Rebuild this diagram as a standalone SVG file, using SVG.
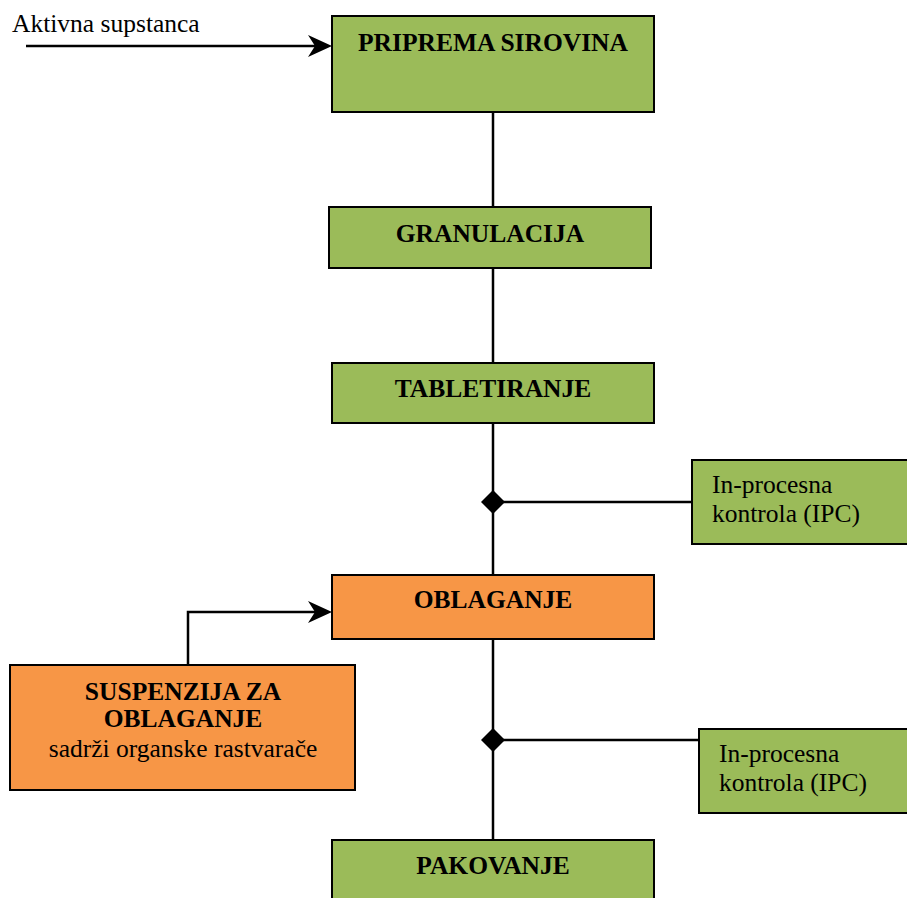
<svg xmlns="http://www.w3.org/2000/svg" width="907" height="898" viewBox="0 0 907 898">
<style>
.box{stroke:#000;stroke-width:2}
.g{fill:#9BBB59}
.o{fill:#F79646}
.t{font-family:"Liberation Serif",serif;font-size:25.5px;fill:#000}
.b{font-weight:bold;text-anchor:middle}
.ln{stroke:#000;stroke-width:2.5;fill:none}
</style>
<rect width="907" height="898" fill="#fff"/>
<g id="connectors">
<line class="ln" x1="26" y1="46" x2="320" y2="46"/>
<path d="M308,35 L332,46 L308,57 L315,46 Z" fill="#000"/>
<line class="ln" x1="493" y1="112" x2="493" y2="207"/>
<line class="ln" x1="493" y1="268" x2="493" y2="363"/>
<line class="ln" x1="493" y1="423" x2="493" y2="575"/>
<line class="ln" x1="493" y1="502" x2="692" y2="502"/>
<path d="M493,490 L505,502 L493,514 L481,502 Z" fill="#000"/>
<polyline class="ln" points="188,665 188,612 320,612"/>
<path d="M308,601 L332,612 L308,623 L315,612 Z" fill="#000"/>
<line class="ln" x1="493" y1="639" x2="493" y2="840"/>
<line class="ln" x1="493" y1="740" x2="699" y2="740"/>
<path d="M493,728 L505,740 L493,752 L481,740 Z" fill="#000"/>
</g>
<g id="aktivna"><text class="t" x="12" y="32">Aktivna supstanca</text></g>
<g id="priprema"><rect class="box g" x="332" y="16" width="322" height="96"/><text class="t b" x="493" y="51">PRIPREMA SIROVINA</text></g>
<g id="granulacija"><rect class="box g" x="329" y="207" width="322" height="61"/><text class="t b" x="490" y="242">GRANULACIJA</text></g>
<g id="tabletiranje"><rect class="box g" x="332" y="363" width="322" height="60"/><text class="t b" x="493" y="397">TABLETIRANJE</text></g>
<g id="ipc1"><rect class="box g" x="692" y="460" width="220" height="84"/><text class="t" x="712" y="493">In-procesna</text><text class="t" x="712" y="522">kontrola (IPC)</text></g>
<g id="oblaganje"><rect class="box o" x="332" y="575" width="322" height="64"/><text class="t b" x="493" y="608">OBLAGANJE</text></g>
<g id="suspenzija"><rect class="box o" x="10" y="665" width="345" height="125"/><text class="t b" x="183" y="700">SUSPENZIJA ZA</text><text class="t b" x="183" y="727">OBLAGANJE</text><text class="t" x="183" y="757" text-anchor="middle">sadrži organske rastvarače</text></g>
<g id="ipc2"><rect class="box g" x="699" y="729" width="215" height="84"/><text class="t" x="719" y="762">In-procesna</text><text class="t" x="719" y="791">kontrola (IPC)</text></g>
<g id="pakovanje"><rect class="box g" x="332" y="840" width="322" height="70"/><text class="t b" x="493" y="874">PAKOVANJE</text></g>
</svg>
